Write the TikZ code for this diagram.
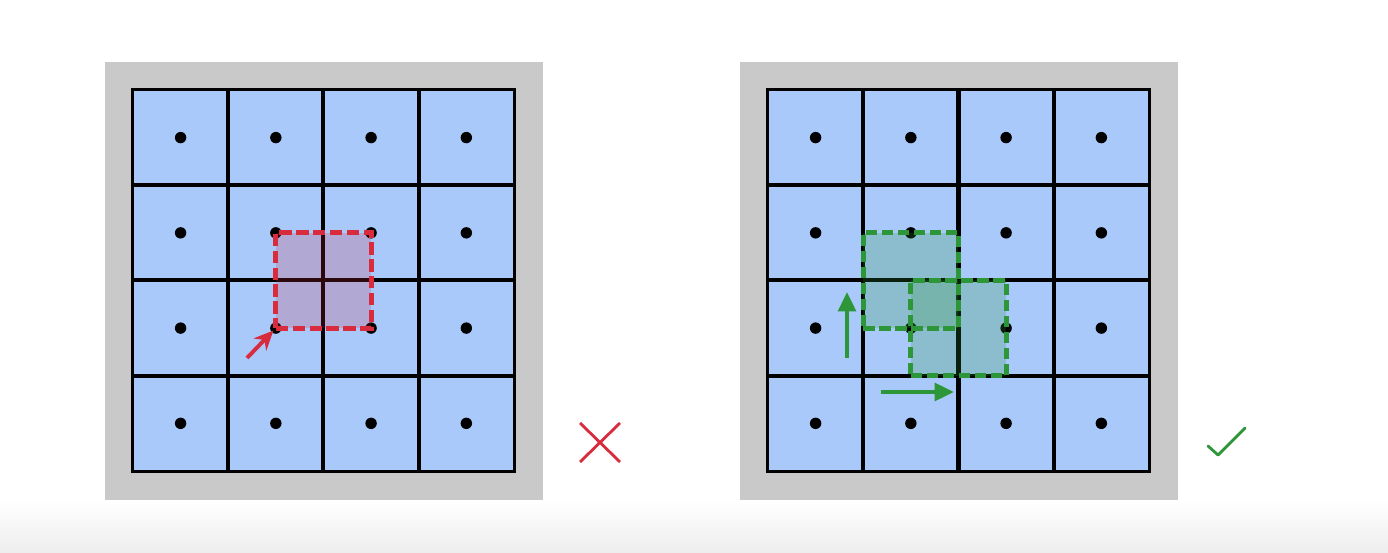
\documentclass[tikz,border=0pt]{standalone}
\usepackage{xcolor}
\usetikzlibrary{positioning,calc,arrows.meta}
\definecolor{cellblue}{RGB}{168,201,250}
\definecolor{framegray}{RGB}{201,201,201}
\definecolor{badred}{RGB}{216,44,62}
\definecolor{goodgreen}{RGB}{44,150,56}
\tikzstyle{cell} = [rectangle,fill=cellblue,minimum size=1.905cm,inner sep=0pt]
\tikzstyle{cellline} = [draw=black,line width=1.9pt]
\tikzstyle{centre} = [circle,fill=black,inner sep=0pt,minimum size=6.5pt]
\tikzstyle{badwin} = [rectangle,draw=badred,line width=2.8pt,dash pattern=on 7pt off 2.6pt,fill=badred,fill opacity=0.2,minimum size=1.905cm,inner sep=0pt]
\tikzstyle{goodwin} = [rectangle,draw=goodgreen,line width=2.8pt,dash pattern=on 6.5pt off 2.6pt,fill=goodgreen,fill opacity=0.22,minimum size=1.905cm,inner sep=0pt]
\tikzstyle{badarrow} = [badred,line width=2.2pt,-{Stealth[length=11pt,width=10pt]}]
\tikzstyle{goodarrow} = [goodgreen,line width=2.2pt,-{Triangle[length=11pt,width=10pt]}]

\begin{document}
\begin{tikzpicture}[x=0.02cm,y=-0.02cm]
    \useasboundingbox (0,0) rectangle (1388,553);
    \shade[top color=white,bottom color=black!7] (0,500) rectangle (1388,553);
    % two 4x4 grids on a gray frame
    \foreach \ox/\nm in {133/L,768/R}{
        \fill[framegray] ({\ox-28},62) rectangle ({\ox+410},500);
        \foreach \i in {0,...,3}
            \foreach \j in {0,...,3}{
                \node[cell] (\nm-\i-\j) at ({\ox+47.6+95.25*\i},{137.6+95.25*\j}) {};
            }
        \foreach \i in {0,...,3}
            \foreach \j in {0,...,3}{
                \draw[cellline] (\nm-\i-\j.south west) rectangle (\nm-\i-\j.north east);
                \node[centre] (\nm dot-\i-\j) at (\nm-\i-\j.center) {};
            }
    }
    % left: window on the sample points
    \node[badwin] (redwin) at ($(Ldot-1-1)!0.5!(Ldot-2-2)$) {};
    \coordinate (redtail) at (247,358);
    \draw[badarrow] (redtail) -- (redwin.south west);
    % right: windows on the cell edges
    \node[goodwin] (greenwinA) at ($(Rdot-1-1)!0.5!(Rdot-1-2)$) {};
    \node[goodwin] (greenwinB) at ($(Rdot-1-2)!0.5!(Rdot-2-2)$) {};
    \coordinate (uptail) at (847,358);
    \coordinate (uphead) at (847,292);
    \coordinate (righttail) at (881,392);
    \coordinate (righthead) at (954,392);
    \draw[goodarrow] (uptail) -- (uphead);
    \draw[goodarrow] (righttail) -- (righthead);
    % marks
    \draw[badred,line width=1.6pt] (580,423) -- (620,462) (620,423) -- (580,462);
    \draw[goodgreen,line width=1.6pt,line cap=round,line join=round] (1208,446) -- (1218,455) -- (1245,428);
\end{tikzpicture}
\end{document}
